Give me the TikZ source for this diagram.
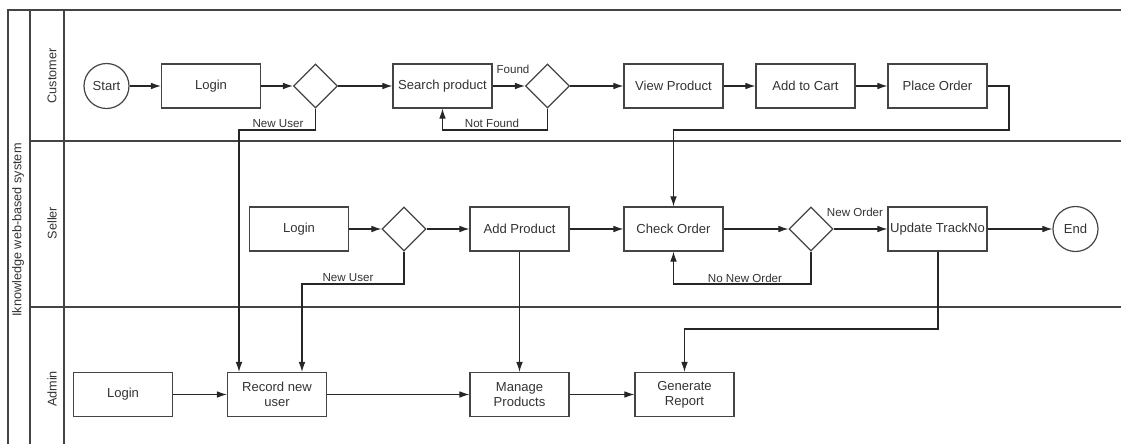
\documentclass[tikz,border=0pt]{standalone}
\usepackage{fontspec}
\setmainfont{Liberation Sans}
\usetikzlibrary{arrows.meta,shapes.geometric}
\definecolor{txt}{HTML}{333333}
\definecolor{frm}{HTML}{444444}
\tikzset{
  box/.style={draw=frm, line width=0.9pt, rectangle, minimum width=74.25pt, minimum height=33pt, inner sep=1pt, align=center, font=\fontsize{9.8pt}{11pt}\selectfont, text=txt},
  dec/.style={draw=frm, line width=0.9pt, diamond, minimum width=33pt, minimum height=33pt, inner sep=0pt},
  term/.style={draw=frm, line width=0.9pt, circle, minimum size=33.75pt, inner sep=0pt, font=\fontsize{9.8pt}{11pt}\selectfont, text=txt},
  lbl/.style={font=\fontsize{8.7pt}{10pt}\selectfont, text=txt, inner sep=0pt},
  lane/.style={font=\fontsize{9.5pt}{11pt}\selectfont, text=txt, rotate=90, inner sep=0pt},
  conn/.style={draw=black!85, line width=0.8pt, -{Latex[length=7.5pt,width=5pt]}},
  frame/.style={draw=frm, line width=1pt}
}
\begin{document}
\begin{tikzpicture}[x=0.75pt, y=-0.75pt]
\useasboundingbox (0,0) rectangle (1121,444);
% frame
\draw[frame] (8,444) -- (8,10) -- (1121,10);
\draw[frame] (30,10) -- (30,444);
\draw[frame] (64,10) -- (64,444);
\draw[frame] (30,141) -- (1121,141);
\draw[frame] (30,307) -- (1121,307);
\node[lane] (lsys) at (18,230) {Iknowledge web-based system};
\node[lane] (lcus) at (52,76) {Customer};
\node[lane] (lsel) at (52,223) {Seller};
\node[lane] (ladm) at (52,389) {Admin};
% customer
\node[term] (start) at (106.5,86) {Start};
\node[box] (login1) at (211,86) {Login};
\node[dec] (d1) at (315.5,86) {};
\node[box] (search) at (442.5,86) {Search product};
\node[dec] (d2) at (547.5,86) {};
\node[box] (view) at (673.5,86) {View Product};
\node[box] (cart) at (805.5,86) {Add to Cart};
\node[box] (place) at (937.5,86) {Place Order};
% seller
\node[box] (login2) at (299,229) {Login};
\node[dec] (d3) at (404,229) {};
\node[box] (addp) at (519.5,229) {Add Product};
\node[box] (check) at (673.5,229) {Check Order};
\node[dec] (d4) at (811,229) {};
\node[box] (update) at (937.5,229) {Update TrackNo};
\node[term] (end) at (1075.5,229) {End};
% admin
\node[box] (login3) at (123,394.5) {Login};
\node[box] (record) at (277,394.5) {Record new\\user};
\node[box] (manage) at (519.5,394.5) {Manage\\Products};
\node[box] (report) at (684.5,394.5) {Generate\\Report};
% coordinates
\coordinate (c1a) at (315.5,130);
\coordinate (c1b) at (239,130);
\coordinate (c2a) at (547.5,130);
\coordinate (c2b) at (442.5,130);
\coordinate (c3a) at (1009,86);
\coordinate (c3b) at (1009,130);
\coordinate (c3c) at (673.5,130);
\coordinate (c4a) at (404,284);
\coordinate (c4b) at (302,284);
\coordinate (c5a) at (811,284);
\coordinate (c5b) at (673.5,284);
\coordinate (c6a) at (938,329);
\coordinate (c6b) at (684.5,329);
% connectors customer
\draw[conn] (start) -- (login1);
\draw[conn] (login1) -- (d1);
\draw[conn] (d1) -- (search);
\draw[conn] (search) -- (d2);
\draw[conn] (d2) -- (view);
\draw[conn] (view) -- (cart);
\draw[conn] (cart) -- (place);
\draw[conn] (d1.south) -- (c1a) -- (c1b) -- (c1b |- record.north);
\draw[conn] (d2.south) -- (c2a) -- (c2b) -- (search.south);
\draw[conn] (place.east) -- (c3a) -- (c3b) -- (c3c) -- (check.north);
% seller
\draw[conn] (login2) -- (d3);
\draw[conn] (d3) -- (addp);
\draw[conn] (addp) -- (check);
\draw[conn] (check) -- (d4);
\draw[conn] (d4) -- (update);
\draw[conn] (update) -- (end);
\draw[conn] (d3.south) -- (c4a) -- (c4b) -- (c4b |- record.north);
\draw[conn] (d4.south) -- (c5a) -- (c5b) -- (check.south);
\draw[conn] (addp.south) -- (manage.north);
\draw[conn] (update.south -| c6a) -- (c6a) -- (c6b) -- (report.north);
% admin
\draw[conn] (login3) -- (record);
\draw[conn] (record) -- (manage);
\draw[conn] (manage) -- (report);
% labels
\node[lbl] (t1) at (278,124) {New User};
\node[lbl] (t2) at (513,69) {Found};
\node[lbl] (t3) at (492,123.5) {Not Found};
\node[lbl] (t4) at (348,278) {New User};
\node[lbl] (t5) at (745,278) {No New Order};
\node[lbl] (t6) at (855,212) {New Order};
\end{tikzpicture}
\end{document}
